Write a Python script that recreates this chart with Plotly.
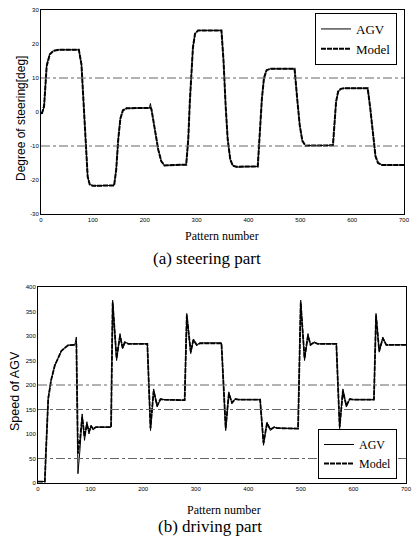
import plotly.graph_objects as go

# ---------------- (a) steering part ----------------
steer_x = [0, 2, 6, 11, 17, 24, 35, 73, 78, 82, 86, 90, 94, 100, 141, 145, 149, 153, 158, 165,
           209, 211, 213, 220, 226, 232, 238, 280, 284, 287, 290, 293, 297, 303, 348, 352, 356,
           360, 365, 370, 377, 418, 422, 426, 430, 435, 442, 489, 494, 499, 504, 510, 563, 566,
           569, 573, 578, 585, 630, 635, 640, 645, 650, 658, 700]
steer_agv = [-0.5, -0.5, 1.5, 14, 17, 18, 18.3, 18.3, 14, 2, -10, -19, -21.3, -21.7, -21.6, -17, -8,
             -2, 0.5, 1.1, 1.2, 2.5, 0.8, -5, -11, -14.5, -15.7, -15.5, -8, 3, 12, 19, 23, 24, 24,
             15, 2, -8, -14, -15.8, -16.2, -16, -6, 4, 10, 12.3, 12.7, 12.7, 4, -4, -8.5, -9.9,
             -9.8, -3, 3, 6, 6.8, 7, 7, 1, -7, -13, -15, -15.6, -15.6]
steer_model = [-0.3, -0.3, 1.8, 13.5, 17, 18, 18.3, 18.3, 14, 2, -10, -19, -21.3, -21.7, -21.6, -17,
               -8, -2, 0.5, 1.1, 1.2, 1.2, 0.8, -5, -11, -14.5, -15.7, -15.5, -8, 3, 12, 19, 23, 24,
               24, 15, 2, -8, -14, -15.8, -16.1, -16, -6, 4, 10, 12.3, 12.7, 12.7, 4, -4, -8.5,
               -9.9, -9.8, -3, 3, 6, 6.8, 7, 7, 1, -7, -13, -15, -15.6, -15.6]
steer_ticks = [-30, -20, -10, 0, 10, 20, 30]
steer_ticktext = ["-30", "-20", "-10", "0", "10", "20", "30"]
steer_grid = [10, -10]

# ---------------- (b) driving part ----------------
drive_x = [0, 13, 15, 19.5, 25, 32, 44.6, 57, 70, 73, 76, 80, 84, 88.5, 93, 97, 101, 105, 110, 139,
           142, 149.5, 156, 161, 165, 172, 208, 214, 220, 226.6, 233, 240, 279, 283, 290.5, 295.6,
           301.9, 308, 349, 357, 363, 369, 375.4, 382, 422.5, 429, 435.6, 442, 449, 455, 494.7,
           499.7, 507, 513.5, 518.5, 525, 532, 567.5, 573.8, 580, 586.5, 593, 600, 639, 643, 649,
           656, 662.5, 670, 700]
drive_agv = [3, 3, 60, 175, 210, 240, 270, 281, 282, 298, 19, 70, 141, 87, 125, 100, 118, 108, 114,
             114, 373, 250, 305, 274, 288, 284, 284, 107, 192, 155, 172, 170, 169, 346, 264, 294,
             281, 286, 286, 107, 186, 162, 172, 170, 170, 77, 124, 107, 114, 112, 111, 373, 250,
             305, 281, 288, 284, 284, 111, 192, 155, 172, 170, 170, 346, 267, 298, 281, 282, 282]
drive_model = [3, 3, 60, 172, 210, 240, 270, 281, 282, 284, 60, 90, 135, 95, 120, 105, 116, 110,
               114, 114, 368, 255, 300, 276, 287, 284, 284, 112, 188, 158, 171, 170, 169, 342, 268,
               292, 282, 285, 285, 112, 182, 164, 171, 170, 170, 82, 122, 109, 114, 112, 111, 368,
               255, 300, 282, 287, 284, 284, 115, 188, 158, 171, 170, 170, 342, 270, 295, 282, 282,
               282]
drive_ticks = [0, 50, 100, 150, 200, 250, 300, 350, 400]
drive_grid = [200, 150, 50]

x_ticks = [0, 100, 200, 300, 400, 500, 600, 700]

W, H = 413, 541
SERIF = "Liberation Serif, Times New Roman, serif"
SANS = "Liberation Sans, Arial, sans-serif"

fig = go.Figure()

fig.add_trace(go.Scatter(x=steer_x, y=steer_agv, mode="lines", name="AGV",
                         line=dict(color="black", width=1), xaxis="x", yaxis="y", legend="legend"))
fig.add_trace(go.Scatter(x=steer_x, y=steer_model, mode="lines", name="Model",
                         line=dict(color="black", width=2, dash="5px,1px"),
                         xaxis="x", yaxis="y", legend="legend"))
fig.add_trace(go.Scatter(x=drive_x, y=drive_agv, mode="lines", name="AGV",
                         line=dict(color="black", width=1), xaxis="x2", yaxis="y2", legend="legend2"))
fig.add_trace(go.Scatter(x=drive_x, y=drive_model, mode="lines", name="Model",
                         line=dict(color="black", width=1.8, dash="5px,1px"),
                         xaxis="x2", yaxis="y2", legend="legend2"))

axis_common = dict(showgrid=False, zeroline=False, showline=True, mirror=True,
                   linecolor="black", linewidth=1, ticks="", automargin=False,
                   ticklabeloverflow="allow",
                   tickfont=dict(family=SANS, size=6, color="black"))

shapes = []
for g in steer_grid:
    shapes.append(dict(type="line", xref="x domain", yref="y", x0=0, x1=1, y0=g, y1=g,
                       line=dict(color="#666", width=1, dash="dashdot")))
for g in drive_grid:
    shapes.append(dict(type="line", xref="x2 domain", yref="y2", x0=0, x1=1, y0=g, y1=g,
                       line=dict(color="#666", width=1, dash="dashdot")))

fig.update_layout(
    width=W, height=H,
    margin=dict(l=0, r=0, t=0, b=0),
    paper_bgcolor="white", plot_bgcolor="white",
    xaxis=dict(domain=[41 / W, 404 / W], range=[0, 700], tickvals=x_ticks, anchor="y",
               **axis_common),
    yaxis=dict(domain=[1 - 214 / H, 1 - 10 / H], range=[-30, 30], tickvals=steer_ticks,
               ticktext=steer_ticktext, anchor="x", **axis_common),
    xaxis2=dict(domain=[38 / W, 406 / W], range=[0, 700], tickvals=x_ticks, anchor="y2",
                **axis_common),
    yaxis2=dict(domain=[1 - 483 / H, 1 - 287 / H], range=[0, 400], tickvals=drive_ticks,
                anchor="x2", **axis_common),
    shapes=shapes,
    legend=dict(x=315 / W, y=1 - 13 / H, xanchor="left", yanchor="top",
                bordercolor="black", borderwidth=1, bgcolor="white",
                font=dict(family=SERIF, size=13, color="black"), tracegroupgap=0),
    legend2=dict(x=318 / W, y=1 - 479 / H, xanchor="left", yanchor="bottom",
                 bordercolor="black", borderwidth=1, bgcolor="white",
                 font=dict(family=SERIF, size=12, color="black"), tracegroupgap=0),
    showlegend=True,
)

ann = [
    dict(text="Pattern number", x=222 / W, y=1 - 236 / H, font=dict(family=SERIF, size=12)),
    dict(text="Pattern number", x=224 / W, y=1 - 510 / H, font=dict(family=SERIF, size=12)),
    dict(text="(a) steering part", x=207 / W, y=1 - 258 / H, font=dict(family=SERIF, size=17)),
    dict(text="(b) driving part", x=210 / W, y=1 - 526 / H, font=dict(family=SERIF, size=17)),
    dict(text="Degree of steering[deg]", x=21 / W, y=1 - 119 / H, textangle=-90,
         font=dict(family=SANS, size=12)),
    dict(text="Speed of AGV", x=15 / W, y=1 - 391 / H, textangle=-90,
         font=dict(family=SANS, size=12.5)),
]
for a in ann:
    a.update(xref="paper", yref="paper", showarrow=False, xanchor="center", yanchor="middle")
    a["font"]["color"] = "black"
fig.update_layout(annotations=ann)

fig.write_html("out.html",
               config={"displayModeBar": False},
               post_script="document.body.style.margin='0px';"
                           "document.body.style.overflow='hidden';")
